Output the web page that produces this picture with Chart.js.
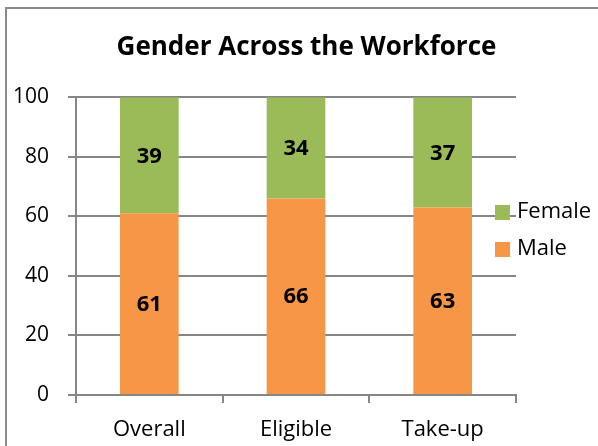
<!DOCTYPE html>
<html>
<head>
<meta charset="utf-8">
<title>Gender Across the Workforce</title>
<script src="https://cdn.jsdelivr.net/npm/chart.js"></script>
<style>
  html, body { margin: 0; padding: 0; background: #fff; overflow: hidden; }
  #wrap { position: relative; width: 598px; height: 446px; }
  #frame {
    position: absolute; left: 5px; top: 7px; width: 700px; height: 600px;
    border-left: 2px solid #8a8a8a; border-top: 2px solid #8a8a8a;
  }
  #genderChart { position: absolute; left: 0; top: 0; }
</style>
</head>
<body>
<div id="wrap">
  <div id="frame"></div>
  <canvas id="genderChart" width="598" height="446"></canvas>
</div>
<script>
const categories = ["Overall", "Eligible", "Take-up"];
const maleValues = [61, 66, 63];
const femaleValues = [39, 34, 37];
const yTicks = [0, 20, 40, 60, 80, 100];

const FONT = "'Open Sans', sans-serif";
const GRID = "#868686";

// values written in the middle of each bar segment
const segmentLabels = {
	id: "segmentLabels",
	afterDatasetsDraw(chart) {
		const ctx = chart.ctx;
		ctx.save();
		ctx.font = `bold 22px ${FONT}`;
		ctx.fillStyle = "#000";
		ctx.textAlign = "center";
		ctx.textBaseline = "middle";
		chart.data.datasets.forEach((ds, i) => {
			chart.getDatasetMeta(i).data.forEach((bar, j) => {
				const mid = (bar.y + bar.base) / 2;
				ctx.fillText(String(ds.data[j]), bar.x, mid + 1);
			});
		});
		ctx.restore();
	},
};

// legend sitting over the right end of the plot, Female above Male
const sideLegend = {
	id: "sideLegend",
	afterDraw(chart) {
		const ctx = chart.ctx;
		const items = chart.data.datasets.slice().reverse();
		ctx.save();
		ctx.font = `22px ${FONT}`;
		ctx.textBaseline = "middle";
		items.forEach((ds, i) => {
			const y = 212 + i * 37;
			ctx.fillStyle = ds.backgroundColor;
			ctx.fillRect(495, y - 7, 15, 15);
			ctx.fillStyle = "#000";
			ctx.fillText(ds.label, 517, y);
		});
		ctx.restore();
	},
};

// title is centred over the whole frame, not just the plot
const shiftTitle = {
	id: "shiftTitle",
	afterLayout(chart) {
		chart.titleBlock.left = 15;
		chart.titleBlock.right = 598;
	},
};

const ctx = document.getElementById("genderChart").getContext("2d");
new Chart(ctx, {
	type: "bar",
	data: {
		labels: categories,
		datasets: [
			{
				label: "Male",
				data: maleValues,
				backgroundColor: "#F79646",
				categoryPercentage: 1,
				barPercentage: 0.4,
			},
			{
				label: "Female",
				data: femaleValues,
				backgroundColor: "#9BBB59",
				categoryPercentage: 1,
				barPercentage: 0.4,
			},
		],
	},
	options: {
		responsive: false,
		animation: false,
		layout: { padding: { left: 0, right: 82, top: 0, bottom: 0 } },
		scales: {
			x: {
				stacked: true,
				grid: {
					drawOnChartArea: false,
					color: GRID,
					lineWidth: 2,
					tickLength: 8,
				},
				border: { color: GRID, width: 2 },
				ticks: {
					color: "#000",
					font: { family: FONT, size: 22 },
					padding: 14,
				},
				afterFit(scale) {
					scale.height = 51;
				},
			},
			y: {
				stacked: true,
				min: 0,
				max: 100,
				afterBuildTicks(scale) {
					scale.ticks = yTicks.map((v) => ({ value: v }));
				},
				grid: {
					color: GRID,
					lineWidth: 2,
					tickLength: 8,
				},
				border: { color: GRID, width: 2 },
				ticks: {
					color: "#000",
					font: { family: FONT, size: 21 },
					padding: 19,
				},
				afterFit(scale) {
					scale.width = 76;
				},
			},
		},
		plugins: {
			legend: { display: false },
			tooltip: { enabled: false },
			title: {
				display: true,
				text: "Gender Across the Workforce",
				color: "#000",
				font: { family: FONT, size: 26, weight: "bold" },
				padding: { top: 32, bottom: 34 },
			},
		},
	},
	plugins: [segmentLabels, sideLegend, shiftTitle],
});
</script>
</body>
</html>
